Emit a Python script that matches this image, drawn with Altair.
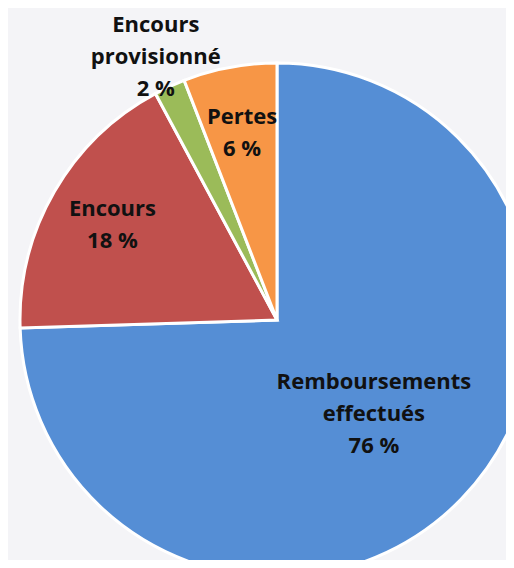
import altair as alt
import pandas as pd

categories = ["Remboursements effectués", "Encours", "Encours provisionné", "Pertes"]
labels = ["Remboursements\neffectués\n76 %", "Encours\n18 %", "Encours\nprovisionné\n2 %", "Pertes\n6 %"]
values = [76, 18, 2, 6]
colors = ["#558ed5", "#c0504d", "#9bbb59", "#f79646"]

df = pd.DataFrame({
    "cat": categories,
    "label": labels,
    "value": values,
    "ord": list(range(len(categories))),
})

cx, cy, R = 269, 312, 257
total = sum(values)
line_h = 32

base = alt.Chart(df).transform_window(
    cum="sum(value)", sort=[alt.SortField("ord")], frame=[None, 0]
).transform_calculate(
    start="datum.cum - datum.value",
    mid="datum.cum - datum.value / 2",
    r="datum.ord == 0 ? 135 : datum.ord == 1 ? 190 : datum.ord == 2 ? 290 : 190",
)

pie = base.mark_arc(radius=R, stroke="white", strokeWidth=3).encode(
    theta=alt.Theta("start:Q", scale=alt.Scale(domain=[0, total])),
    theta2="cum:Q",
    x=alt.value(cx),
    y=alt.value(cy),
    color=alt.Color("cat:N", scale=alt.Scale(domain=categories, range=colors), legend=None),
)

text = base.transform_calculate(
    ang=f"datum.mid / {total} * 2 * PI",
    nl="length(split(datum.label, '\\n'))",
).transform_calculate(
    lx=f"{cx} + datum.r * sin(datum.ang)",
    ly=f"{cy} - datum.r * cos(datum.ang) - (datum.nl - 1) * {line_h / 2}",
).mark_text(
    font="Open Sans", fontSize=22, fontWeight="bold", color="#111111",
    lineBreak="\n", lineHeight=line_h, align="center", baseline="middle",
).encode(
    x=alt.X("lx:Q", scale=None),
    y=alt.Y("ly:Q", scale=None),
    text="label:N",
)

chart = alt.layer(pie, text).properties(
    width=498, height=552, padding=0,
    autosize=alt.AutoSizeParams(type="none"),
).configure(background="#f4f4f7").configure_view(stroke=None)

chart.save("out.html", embed_options={"renderer": "svg", "actions": False})
